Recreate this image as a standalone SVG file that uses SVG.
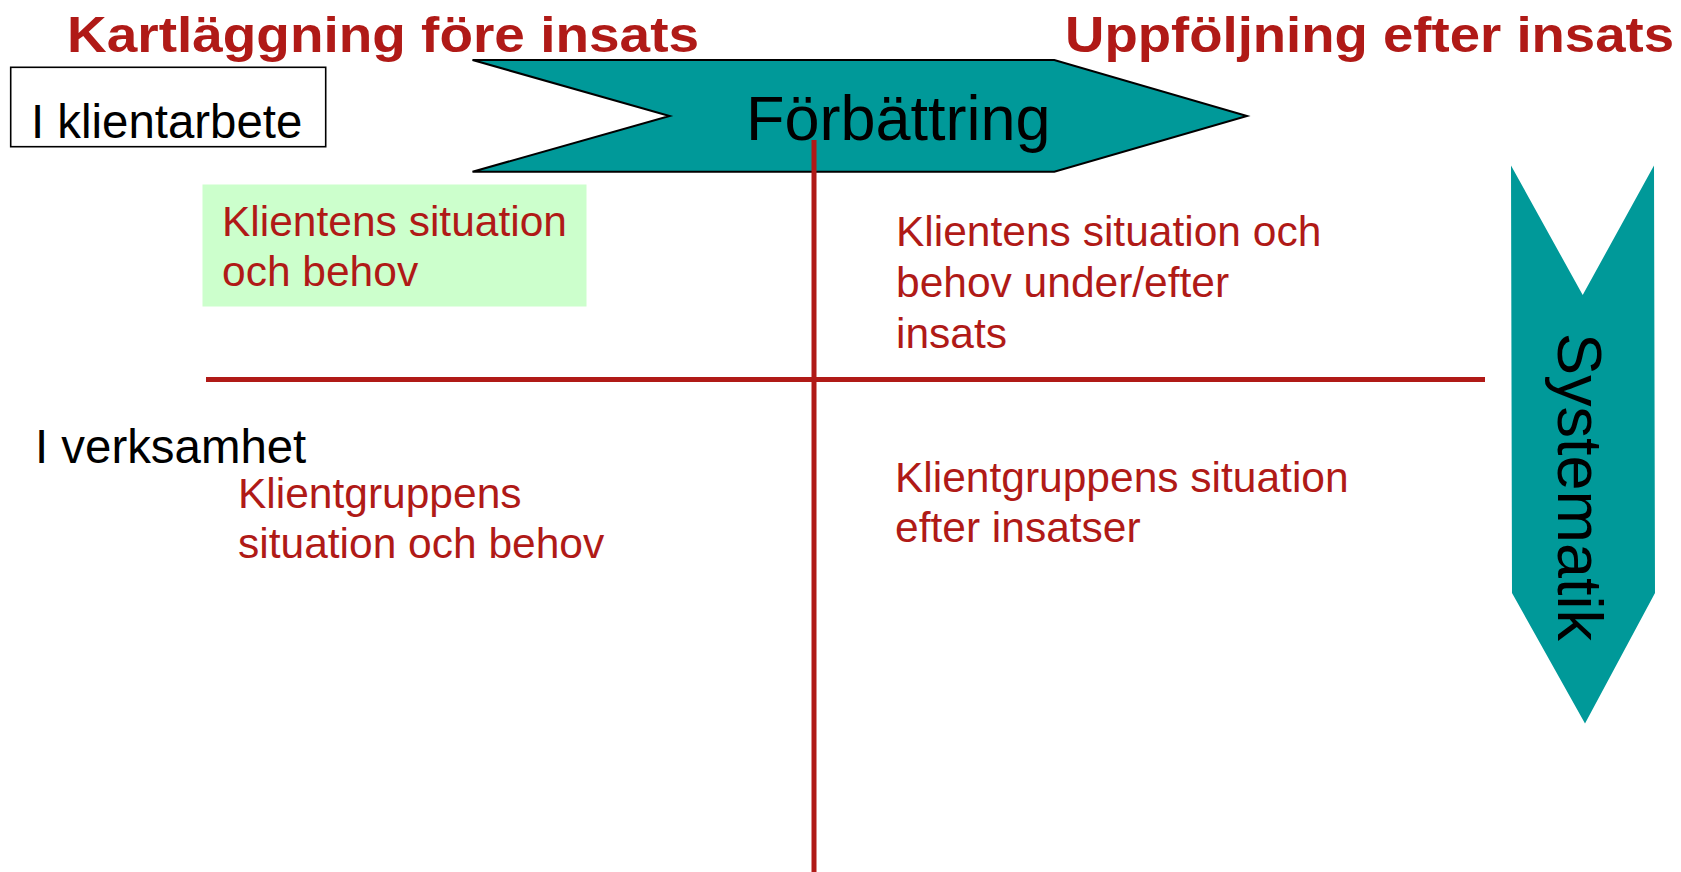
<svg xmlns="http://www.w3.org/2000/svg" width="1681" height="872" viewBox="0 0 1681 872">
<style>
.title{font-family:"Liberation Sans",Arial,sans-serif;font-weight:bold;font-size:50px;fill:#B01A17}
.lbl{font-family:"Liberation Sans",Arial,sans-serif;font-size:47.4px;fill:#000}
.red{font-family:"Liberation Sans",Arial,sans-serif;font-size:42.5px;fill:#B01A17}
.big{font-family:"Liberation Sans",Arial,sans-serif;font-size:63px;fill:#000}
.teal{fill:#009999}
.axis{stroke:#B01A17;stroke-width:5;fill:none}
</style>
<rect width="1681" height="872" fill="#fff"/>
<g id="title-left"><text class="title" x="67" y="52" textLength="632" lengthAdjust="spacingAndGlyphs">Kartläggning före insats</text></g>
<g id="title-right"><text class="title" x="1065" y="52" textLength="609" lengthAdjust="spacingAndGlyphs">Uppföljning efter insats</text></g>
<g id="klientarbete">
<rect x="10.7" y="67.3" width="315" height="79.4" fill="#fff" stroke="#000" stroke-width="1.6"/>
<text class="lbl" x="31" y="138">I klientarbete</text>
</g>
<g id="forbattring">
<polygon class="teal" points="472.5,60 1054.3,60 1247,116 1054.3,171.7 472.5,171.7 669.6,116" stroke="#000" stroke-width="2"/>
<text class="big" x="746" y="140">Förbättring</text>
</g>
<g id="systematik">
<polygon class="teal" points="1511,165.5 1582.7,295 1654,165.5 1655,593 1585,723.5 1512,593"/>
<text class="big" transform="translate(1558,333) rotate(90)" x="0" y="0">Systematik</text>
</g>
<g id="connectors">
<line class="axis" x1="814" y1="140" x2="814" y2="872"/>
<line class="axis" x1="206" y1="379.5" x2="1485" y2="379.5"/>
</g>
<g id="q1">
<rect x="202.5" y="184.5" width="384" height="122" fill="#CCFFCC"/>
<text class="red" x="222" y="236">Klientens situation</text>
<text class="red" x="222" y="286">och behov</text>
</g>
<g id="q2">
<text class="red" x="896" y="246">Klientens situation och</text>
<text class="red" x="896" y="297">behov under/efter</text>
<text class="red" x="896" y="348">insats</text>
</g>
<g id="verksamhet"><text class="lbl" x="35" y="463">I verksamhet</text></g>
<g id="q3">
<text class="red" x="238" y="508">Klientgruppens</text>
<text class="red" x="238" y="558">situation och behov</text>
</g>
<g id="q4">
<text class="red" x="895" y="492">Klientgruppens situation</text>
<text class="red" x="895" y="542">efter insatser</text>
</g>
</svg>
